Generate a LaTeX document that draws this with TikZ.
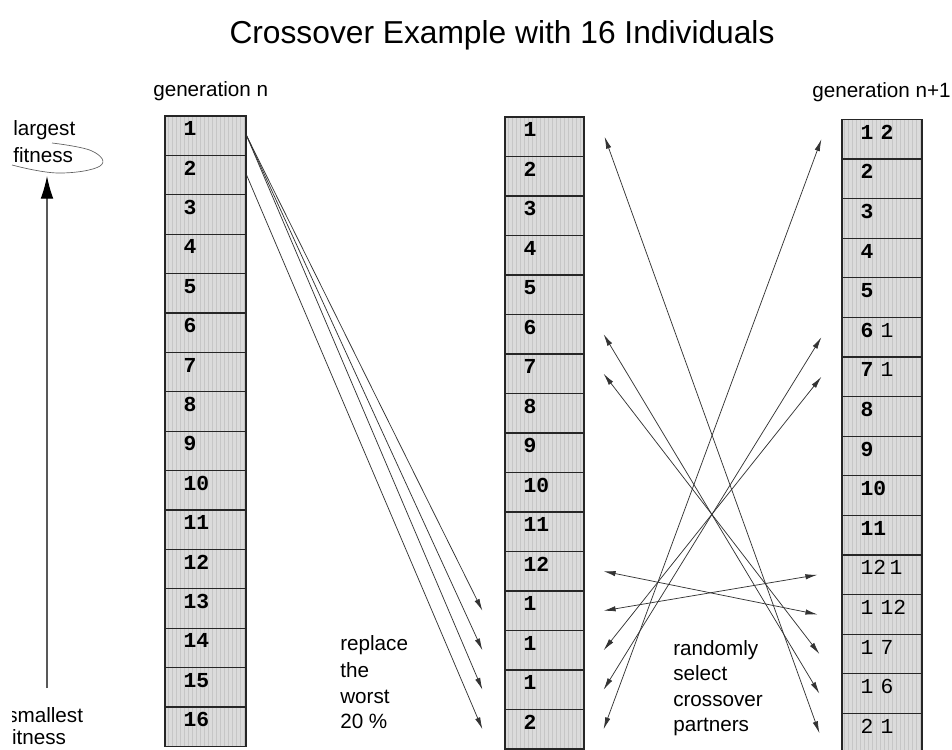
\documentclass[tikz,border=0pt]{standalone}
\usepackage{fontspec}
\setmainfont{Liberation Sans}
\setmonofont{Liberation Mono}
\usetikzlibrary{arrows.meta,calc,patterns}
\begin{document}
\begin{tikzpicture}[x=0.75pt,y=-0.75pt,
  cellbox/.style={draw=black!85, line width=0.9pt, preaction={fill=gray!28},
     pattern=vertical lines, pattern color=gray!45,
     inner sep=0pt, minimum height=29.6pt, text height=5.5pt, text depth=5.5pt,
     align=left, font=\fontsize{16}{18}\selectfont\ttfamily\bfseries},
  lcell/.style={cellbox, text width=60.75pt},
  mcell/.style={cellbox, text width=59.25pt},
  rcell/.style={cellbox, text width=60pt},
  lbl/.style={font=\fontsize{15.5}{18}\selectfont, inner sep=0pt, anchor=base west},
  sel/.style={line width=0.55pt, draw=black!80, -{Latex[length=9pt,width=4pt]}},
  xo/.style={line width=0.55pt, draw=black!80, {Latex[length=9pt,width=4pt]}-{Latex[length=9pt,width=4pt]}},
]
\useasboundingbox (0,0) rectangle (952,749);
\fill[white] (0,0) rectangle (952,749);
\newcommand{\pad}{\hspace*{14pt}}

% title and headings
\node[font=\fontsize{23.8}{28}\selectfont, anchor=base, inner sep=0pt] (title) at (502,44) {Crossover Example with 16 Individuals};
\node[lbl] (genn) at (153,96) {generation n};
\node[lbl] (gennp) at (812,97) {generation n+1};

% fitness axis
\node[lbl] (largest) at (13,135) {largest};
\node[lbl] (fitnessT) at (13,162) {fitness};
\draw[gray!75!black, line width=0.5pt] plot[smooth, tension=0.7] coordinates {(12,165) (58,173) (100,166) (92,151) (52,143)};
\coordinate (abot) at (47,688);
\coordinate (atop) at (47,176);
\draw[gray!70!black, line width=0.8pt, -{Latex[length=17pt,width=9.5pt,color=black]}] (abot) -- (atop);
\begin{scope}
\clip (12,690) rectangle (140,749);
\node[lbl] (smallest) at (7,722) {smallest};
\node[lbl] (fitnessB) at (6,744) {fitness};
\end{scope}

% columns
\foreach \i in {1,...,16} {
  \node[lcell] (l\i) at (205.5,{116+(\i-0.5)*39.4}) {\pad\i};
}
\foreach \i/\t in {1/1,2/2,3/3,4/4,5/5,6/6,7/7,8/8,9/9,10/10,11/11,12/12,13/1,14/1,15/1,16/2} {
  \node[mcell] (m\i) at (544.5,{117+(\i-0.5)*39.5}) {\pad\t};
}
\foreach \i/\t in {1/1~2,2/2,3/3,4/4,5/5,6/6~{\mdseries 1},7/7~{\mdseries 1},8/8,9/9,10/10,11/11,
   12/{\mdseries 12\hspace{2.5pt}1},13/{\mdseries 1~12},14/{\mdseries 1~7},15/{\mdseries 1~6},16/{\mdseries 2~1}} {
  \node[rcell] (r\i) at (882,{119.4+(\i-0.5)*39.6}) {\pad\t};
}

% replace the worst
\draw[sel] (l1.east) -- ($(m13.west)+(-22,0)$);
\draw[sel] (l1.east) -- ($(m14.west)+(-22,0)$);
\draw[sel] (l1.east) -- ($(m15.west)+(-22,0)$);
\draw[sel] (l2.east) -- ($(m16.west)+(-22,0)$);

\node[lbl] (t1) at (340,650) {replace};
\node[lbl] (t2) at (340,677) {the};
\node[lbl] (t3) at (340,703) {worst};
\node[lbl] (t4) at (340,728) {20 \%};

% crossover partners
\draw[xo] ($(m1.east)+(20,0)$) -- ($(r16.west)+(-22,0)$);
\draw[xo] ($(m16.east)+(19,0)$) -- ($(r1.west)+(-20,0)$);
\draw[xo] ($(m6.east)+(19,0)$) -- ($(r15.west)+(-22,0)$);
\draw[xo] ($(m7.east)+(19,0)$) -- ($(r14.west)+(-22,0)$);
\draw[xo] ($(m15.east)+(19,0)$) -- ($(r6.west)+(-20,0)$);
\draw[xo] ($(m14.east)+(19,0)$) -- ($(r7.west)+(-20,0)$);
\draw[xo] ($(m12.east)+(19,0)$) -- ($(r13.west)+(-24,0)$);
\draw[xo] ($(m13.east)+(19,0)$) -- ($(r12.west)+(-24,0)$);

\node[lbl] (u1) at (673,655) {randomly};
\node[lbl] (u2) at (673,680) {select};
\node[lbl] (u3) at (673,706) {crossover};
\node[lbl] (u4) at (673,731) {partners};
\end{tikzpicture}
\end{document}
